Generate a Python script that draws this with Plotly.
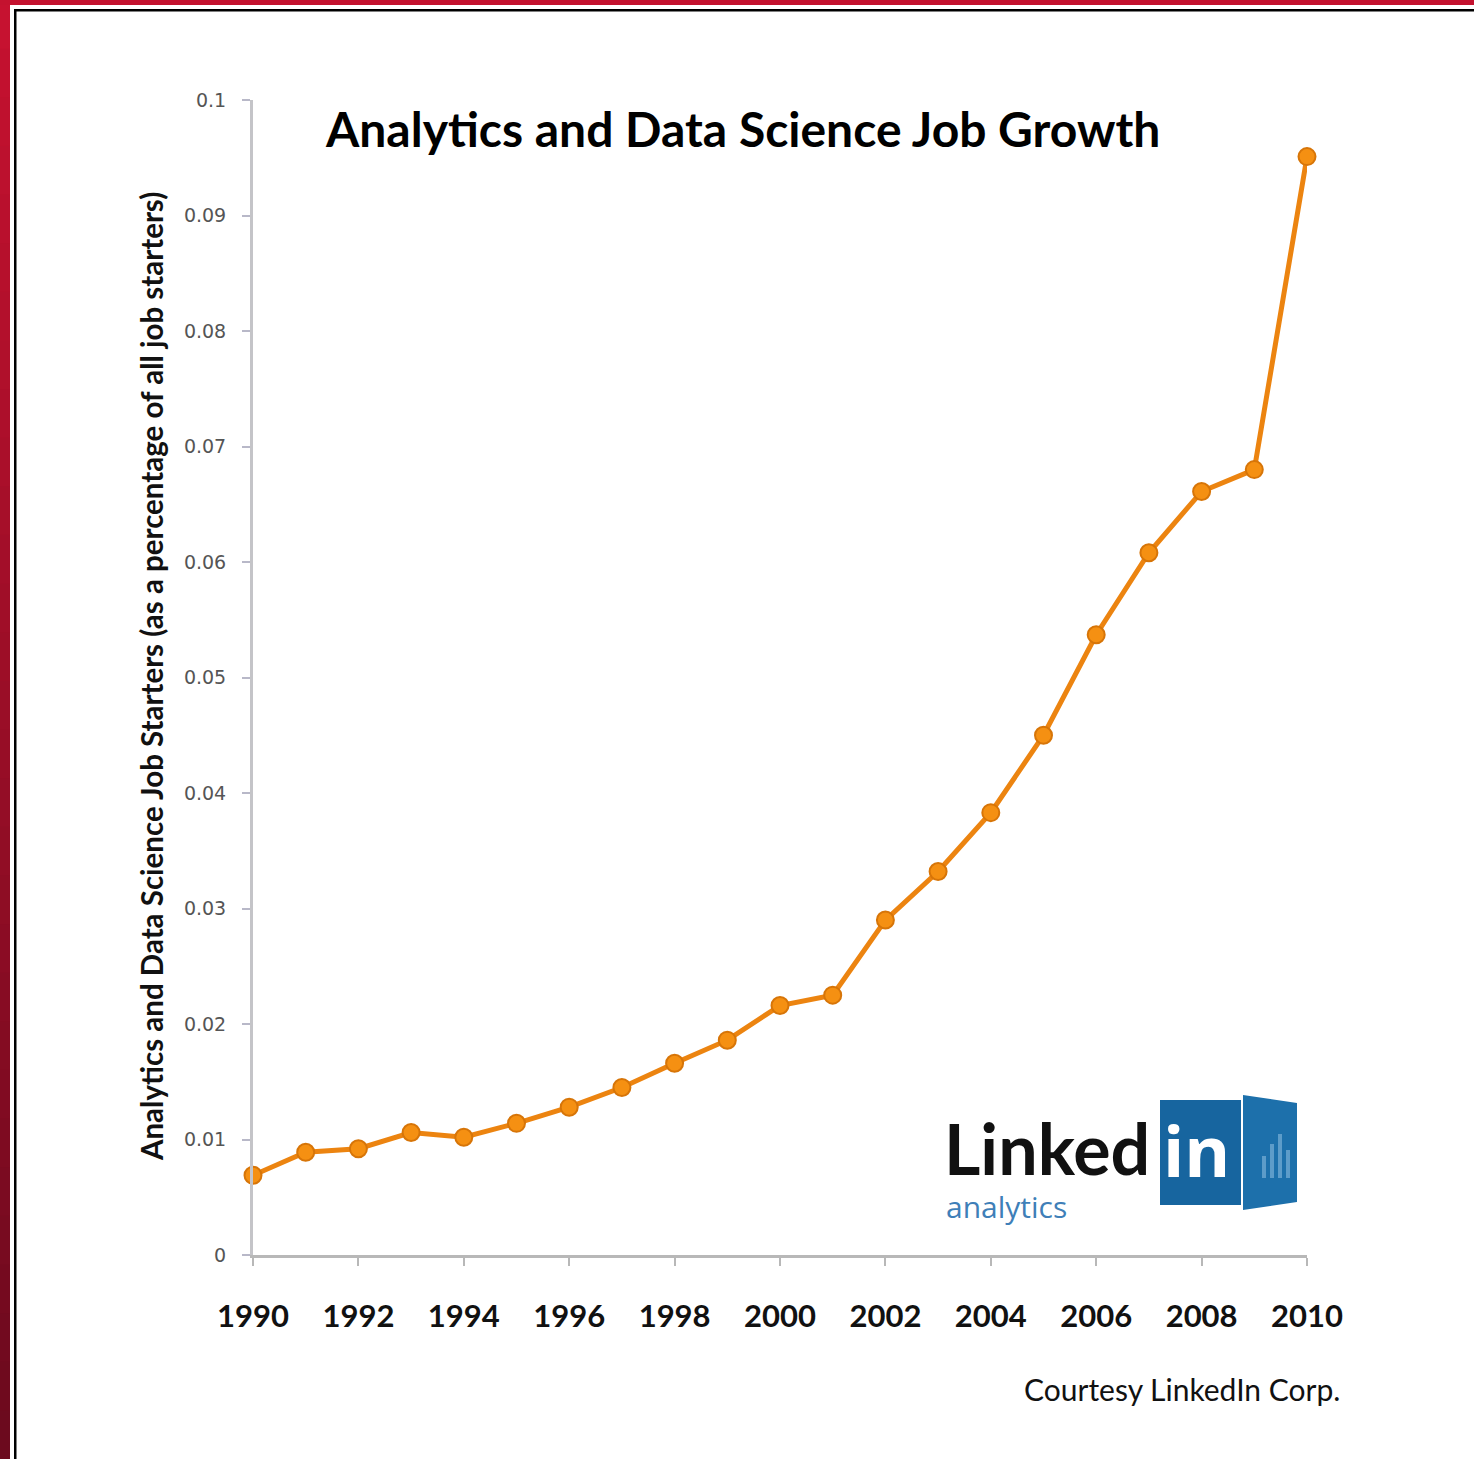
import plotly.graph_objects as go

# ---- data ----
years = list(range(1990, 2011))
share = [0.0069, 0.0089, 0.0092, 0.0106, 0.0102, 0.0114, 0.0128, 0.0145, 0.0166, 0.0186,
         0.0216, 0.0225, 0.0290, 0.0332, 0.0383, 0.0450, 0.0537, 0.0608, 0.0661, 0.0680, 0.0951]
x_ticks = list(range(1990, 2011, 2))
y_ticks = [0, 0.01, 0.02, 0.03, 0.04, 0.05, 0.06, 0.07, 0.08, 0.09, 0.1]
y_tick_text = ["0", "0.01", "0.02", "0.03", "0.04", "0.05", "0.06", "0.07", "0.08", "0.09", "0.1"]
title_text = "Analytics and Data Science Job Growth"
y_title = "Analytics and Data Science Job Starters (as a percentage of all job starters)"
credit = "Courtesy LinkedIn Corp."

W, H = 1474, 1459
L, R, T, B = 253, 1307, 100, 1255


def px(x):
    return (x - L) / (R - L)


def py(y):
    return (B - y) / (B - T)


fig = go.Figure()
fig.add_trace(go.Scatter(
    x=years, y=share, mode="lines+markers",
    line=dict(color="#ec8410", width=5),
    marker=dict(size=17, color="#f59012", line=dict(color="#d77508", width=2)),
    showlegend=False, cliponaxis=False,
))

shapes = []
# left red strip with gradient
n = 30
c0 = (198, 18, 48)
c1 = (108, 10, 30)
for i in range(n):
    t = i / (n - 1)
    col = "rgb(%d,%d,%d)" % tuple(int(c0[k] + (c1[k] - c0[k]) * t) for k in range(3))
    y0 = H * i / n
    y1 = H * (i + 1) / n + 1
    shapes.append(dict(type="rect", xref="paper", yref="paper", x0=px(0), x1=px(10),
                       y0=py(y1), y1=py(y0), fillcolor=col, line_width=0, layer="above"))
# top red strip
shapes.append(dict(type="rect", xref="paper", yref="paper", x0=px(0), x1=px(W),
                   y0=py(5), y1=py(0), fillcolor="#c4122f", line_width=0, layer="above"))
# black frame lines
shapes.append(dict(type="rect", xref="paper", yref="paper", x0=px(14), x1=px(16.5),
                   y0=py(H), y1=py(9), fillcolor="#000000", line_width=0, layer="above"))
shapes.append(dict(type="rect", xref="paper", yref="paper", x0=px(14), x1=px(W),
                   y0=py(11.5), y1=py(9), fillcolor="#000000", line_width=0, layer="above"))
# LinkedIn logo box
shapes.append(dict(type="rect", xref="paper", yref="paper", x0=px(1160), x1=px(1241),
                   y0=py(1205), y1=py(1100), fillcolor="#17659f", line_width=0))
shapes.append(dict(type="path", xref="paper", yref="paper",
                   path="M %f,%f L %f,%f L %f,%f L %f,%f Z" % (
                       px(1243), py(1095), px(1297), py(1103), px(1297), py(1202), px(1243), py(1210)),
                   fillcolor="#1d70ab", line_width=0))
for bx, bh in [(1262, 22), (1270, 34), (1278, 44), (1286, 28)]:
    shapes.append(dict(type="rect", xref="paper", yref="paper", x0=px(bx), x1=px(bx + 4),
                       y0=py(1178), y1=py(1178 - bh), fillcolor="#5d9cc9", line_width=0))

annotations = [
    dict(text="<b>" + title_text + "</b>", x=px(742), y=py(128), xref="paper", yref="paper",
         showarrow=False, xanchor="center", yanchor="middle",
         font=dict(family="Lato", size=48, color="#000000")),
    dict(text="<b>" + y_title + "</b>", x=px(151), y=py(677), xref="paper", yref="paper", textangle=-90,
         showarrow=False, xanchor="center", yanchor="middle",
         font=dict(family="Lato", size=29.5, color="#111111")),
    dict(text=credit, x=px(1342), y=py(1389), xref="paper", yref="paper",
         showarrow=False, xanchor="right", yanchor="middle",
         font=dict(family="Lato", size=30, color="#111111")),
    dict(text="<b>Linked</b>", x=px(942), y=py(1148), xref="paper", yref="paper",
         showarrow=False, xanchor="left", yanchor="middle",
         font=dict(family="Lato", size=70, color="#111111")),
    dict(text="analytics", x=px(944), y=py(1206), xref="paper", yref="paper",
         showarrow=False, xanchor="left", yanchor="middle",
         font=dict(family="Open Sans", size=30, color="#3f7fb8")),
    dict(text="<b>in</b>", x=px(1196), y=py(1150), xref="paper", yref="paper",
         showarrow=False, xanchor="center", yanchor="middle",
         font=dict(family="Open Sans", size=70, color="#ffffff")),
]

fig.update_layout(
    width=W, height=H,
    margin=dict(l=L, r=W - R, t=T, b=H - B, pad=0),
    paper_bgcolor="#ffffff", plot_bgcolor="#ffffff",
    shapes=shapes, annotations=annotations,
    xaxis=dict(range=[1990, 2010], tickvals=x_ticks, ticktext=[str(v) for v in x_ticks],
               showgrid=False, zeroline=False, showline=True, linecolor="#b8b8b8", linewidth=3,
               ticks="outside", ticklen=8, tickcolor="#b8b8b8", tickwidth=2,
               tickfont=dict(family="Lato", size=31, color="#111111", weight="bold"),
               ticklabelstandoff=24),
    yaxis=dict(range=[0, 0.1], tickvals=y_ticks, ticktext=y_tick_text,
               showgrid=False, zeroline=False, showline=True, linecolor="#c4c4c8", linewidth=3,
               ticks="outside", ticklen=8, tickcolor="#b8b8c8", tickwidth=2,
               tickfont=dict(family="DejaVu Sans", size=19, color="#555555"),
               ticklabelstandoff=12),
)

fig.write_html("out.html")
